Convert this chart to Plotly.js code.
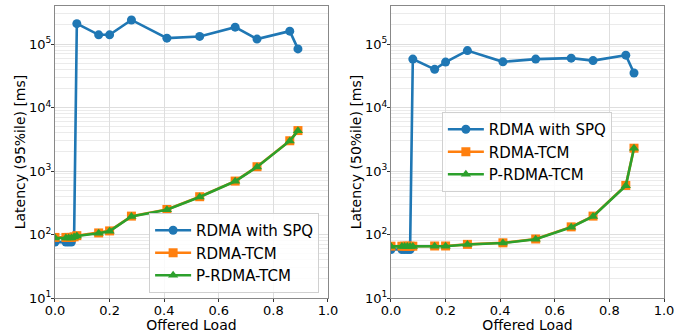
<!DOCTYPE html>
<html>
<head>
<meta charset="utf-8">
<script src="https://cdn.plot.ly/plotly-3.0.1.min.js"></script>
<style>html,body{margin:0;padding:0;background:#fff}#chart{width:684px;height:333px}</style>
</head>
<body>
<div id="chart"></div>
<script>
// Offered load (x) values
const loadSpq = [0, 0.04, 0.05, 0.06, 0.07, 0.08, 0.16, 0.20, 0.28, 0.41, 0.53, 0.66, 0.74, 0.86, 0.89];
const loadTcm = [0, 0.04, 0.05, 0.06, 0.07, 0.08, 0.16, 0.20, 0.28, 0.41, 0.53, 0.66, 0.74, 0.86, 0.89];

// 95th percentile latency [ms]
const p95Spq  = [76, 76, 76, 76, 90, 210000, 140000, 140000, 240000, 124000, 132000, 185000, 120000, 160000, 84000];
const p95Tcm  = [90, 90, 90, 90, 92, 96, 106, 114, 195, 248, 394, 695, 1170, 3000, 4340];
const p95PTcm = [88, 88, 88, 88, 91, 95, 105, 113, 193, 246, 390, 690, 1160, 2980, 4300];

// 50th percentile latency [ms]
const p50Spq  = [58, 58, 58, 58, 58, 58000, 40000, 52000, 79000, 52500, 58000, 60000, 55000, 67000, 35000];
const p50Tcm  = [65.5, 65.5, 65.5, 65.5, 65.5, 65.5, 66, 66, 70, 74, 85, 132, 195, 593, 2290];
const p50PTcm = [65, 65, 65, 65, 65, 65, 65.5, 65.5, 69.5, 73.5, 84, 130, 192, 585, 2280];

const names = ["RDMA with SPQ", "RDMA-TCM", "P-RDMA-TCM"];
const colors = ["#1f77b4", "#ff7f0e", "#2ca02c"];
const symbols = ["circle", "square", "triangle-up"];
const yTickVals = [10, 100, 1000, 10000, 100000];
const yTickText = ["10<sup>1</sup>", "10<sup>2</sup>", "10<sup>3</sup>", "10<sup>4</sup>", "10<sup>5</sup>"];
const xTickVals = [0, 0.2, 0.4, 0.6, 0.8, 1.0];
const xTickText = ["0.0", "0.2", "0.4", "0.6", "0.8", "1.0"];

function mk(x, y, i, xa, ya, leg) {
  return {
    x: x, y: y, xaxis: xa, yaxis: ya, legend: leg,
    type: "scatter", mode: "lines+markers", name: names[i],
    line: {color: colors[i], width: 2.6},
    marker: {color: colors[i], symbol: symbols[i], size: 9}
  };
}

const data = [
  mk(loadSpq, p95Spq, 0, "x", "y", "legend"),
  mk(loadTcm, p95Tcm, 1, "x", "y", "legend"),
  mk(loadTcm, p95PTcm, 2, "x", "y", "legend"),
  mk(loadSpq, p50Spq, 0, "x2", "y2", "legend2"),
  mk(loadTcm, p50Tcm, 1, "x2", "y2", "legend2"),
  mk(loadTcm, p50PTcm, 2, "x2", "y2", "legend2")
];

function xax(domain, anchor) {
  return {
    domain: domain, anchor: anchor, range: [0, 1],
    tickvals: xTickVals, ticktext: xTickText,
    ticks: "outside", ticklen: 3, tickcolor: "#333", ticklabelstandoff: -3,
    showline: true, mirror: true, linecolor: "#888", linewidth: 1,
    showgrid: true, gridcolor: "#dedede", gridwidth: 1,
    zeroline: false, tickfont: {family: "DejaVu Sans", size: 13, color: "#000"},
    title: {text: "Offered Load", font: {family: "DejaVu Sans", size: 14, color: "#000"}, standoff: 1}
  };
}
function yax(anchor, title) {
  return {
    anchor: anchor, type: "log", range: [1, 5.6],
    tickvals: yTickVals, ticktext: yTickText,
    ticks: "outside", ticklen: 3, tickcolor: "#333", ticklabelstandoff: -3,
    showline: true, mirror: true, linecolor: "#888", linewidth: 1,
    showgrid: true, gridcolor: "#dedede", gridwidth: 1,
    minor: {showgrid: true, gridcolor: "#ebebeb", gridwidth: 1, ticks: "", dtick: "D1"},
    zeroline: false, tickfont: {family: "DejaVu Sans", size: 13, color: "#000"},
    title: {text: title, font: {family: "DejaVu Sans", size: 14, color: "#000"}, standoff: 0}
  };
}

const legendBase = {
  bgcolor: "rgba(255,255,255,0.85)", bordercolor: "#d0d0d0", borderwidth: 1,
  font: {family: "DejaVu Sans", size: 15, color: "#000"},
  xanchor: "left", yanchor: "top", tracegroupgap: 0, itemwidth: 36
};

const layout = {
  width: 684, height: 333,
  margin: {l: 0, r: 0, t: 6, b: 35, pad: 0},
  paper_bgcolor: "#fff", plot_bgcolor: "#fff",
  font: {family: "DejaVu Sans", size: 13, color: "#000"},
  showlegend: true,
  xaxis: xax([0.0804, 0.4795], "y"),
  yaxis: yax("x", "Latency (95%ile) [ms]"),
  xaxis2: xax([0.5716, 0.9708], "y2"),
  yaxis2: yax("x2", "Latency (50%ile) [ms]"),
  legend: Object.assign({}, legendBase, {x: 0.218, y: 0.291}),
  legend2: Object.assign({}, legendBase, {x: 0.646, y: 0.637})
};

Plotly.newPlot("chart", data, layout, {staticPlot: true, displayModeBar: false});
</script>
</body>
</html>
